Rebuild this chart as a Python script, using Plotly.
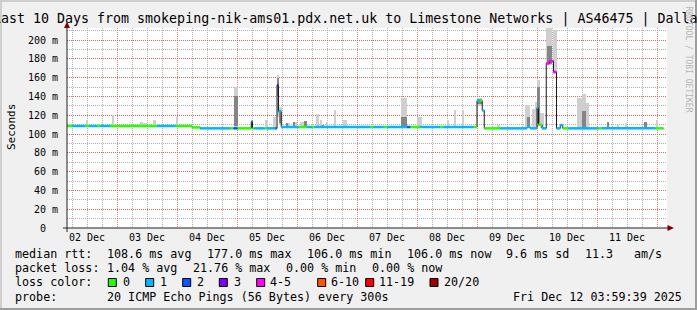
import plotly.graph_objects as go
import pandas as pd

# ---------------- data ----------------
START = pd.Timestamp("2025-12-02 04:00")
END = pd.Timestamp("2025-12-12 04:00")

# median rtt steps: start (hours after START), median (ms), loss bucket index
seg_start_h = [0, 2, 7.3, 8.7, 12, 13.3, 17.3, 36, 43.3, 50, 53.3, 65.3, 66.6, 68.2,
               73.7, 74.2, 75, 79, 80, 83.3, 84, 84.6, 85.7, 92.6, 96, 98, 99,
               121.3, 122.6, 126.6, 128, 136, 137.3, 141.3, 149.3, 150.6, 162.6,
               164, 164.9, 166.1, 166.9, 173.3, 184, 185.3, 188, 188.6, 190,
               191.7, 192.9, 194.6, 195.8, 197.3, 198.3, 200.6, 212.6, 214, 235.3]
seg_median_ms = [108.5, 108.5, 108.5, 108.5, 108.5, 108.5, 108.5, 108.5, 108.5, 107, 106, 106, 106, 106,
                 113, 106, 106, 106, 106, 106, 152, 124, 107.4, 107.4, 107.4, 107.4, 107.4,
                 107.4, 107.4, 107.4, 107.4, 107.4, 107.4, 107.4, 107.4, 107.4, 107.4,
                 135.5, 135.5, 125, 106, 106, 107.5, 106, 128, 110, 106,
                 175, 177.6, 166, 106, 109.5, 106, 106, 106, 106, 106]
seg_loss = [0, 1, 0, 1, 0, 1, 0, 1, 0, 0, 1, 0, 2, 0,
            2, 0, 1, 0, 1, 2, 3, 1, 1, 0, 1, 0, 1,
            0, 1, 0, 1, 2, 0, 1, 0, 1, 0,
            1, 0, 1, 0, 1, 1, 1, 1, 0, 1,
            4, 4, 4, 1, 1, 0, 1, 0, 1, 0]
seg_end_h = 238.6

# smoke (ping spread), light outer part
light_h0 = [7.9, 12.5, 18.1, 29.3, 30.5, 34.3, 43.7, 66.9, 73.9, 79.3, 82.5, 84.0, 84.6, 87.7,
            90.5, 93.3, 99.9, 101.3, 103.7, 106.7, 110.5, 133.7, 140.0, 152.0, 154.9, 158.3,
            164.0, 172.0, 183.3, 186.0, 187.3, 188.0, 189.3, 191.5, 194.5, 204.0, 206.0,
            207.5, 220.0, 223.3, 235.7]
light_h1 = [8.5, 12.9, 18.7, 30.5, 32.1, 35.7, 44.3, 68.3, 74.5, 80.5, 83.7, 84.6, 85.9, 89.3,
            91.9, 95.3, 100.6, 102.1, 104.5, 107.5, 112.1, 136.1, 142.0, 152.5, 155.7, 158.9,
            166.1, 173.3, 185.3, 187.3, 188.0, 189.0, 190.6, 194.1, 196.1, 206.0, 207.5,
            208.6, 220.5, 223.9, 236.3]
light_lo = [108, 108, 108, 108, 108, 108, 108, 106, 106, 106, 106, 118, 110, 107,
            107, 107, 107, 107, 107, 107, 107, 107, 107, 107, 107, 107,
            130, 106, 106, 106, 106, 108, 106, 173, 164, 106, 106,
            106, 106, 106, 106]
light_hi = [115, 111, 120, 113, 112, 115, 118.5, 150, 114, 115, 118, 163, 129, 112,
            113, 113, 121, 115, 113, 126, 115, 138, 118.5, 115, 126, 126,
            138, 110, 131, 127, 134, 157, 122, 215, 211, 138, 143,
            133, 110, 112, 115]

# smoke, dense inner part
dark_h0 = [66.9, 73.9, 84.0, 84.6, 87.9, 90.5, 94.9, 102.0, 133.7, 164.0, 184.0, 188.0,
           192.0, 206.0, 216.0, 230.6]
dark_h1 = [68.3, 74.5, 84.6, 85.7, 88.5, 91.3, 96.0, 102.6, 136.1, 166.1, 185.3, 189.0,
           194.1, 207.5, 216.6, 232.0]
dark_lo = [108, 106, 140, 112, 107, 107, 107, 106, 108, 132, 106, 112, 175, 106, 106, 106]
dark_hi = [140, 113, 160, 126, 112, 113, 114, 110, 118, 137, 118, 150, 194, 124, 113, 113]

y_tickvals = [0, 20, 40, 60, 80, 100, 120, 140, 160, 180, 200]
y_ticktext = ["0\u00a0\u00a0", "20 m", "40 m", "60 m", "80 m", "100 m", "120 m",
              "140 m", "160 m", "180 m", "200 m"]

loss_labels = ["0", "1", "2", "3", "4-5", "6-10", "11-19", "20/20"]
loss_colors = ["#26ff00", "#00b8ff", "#0059ff", "#7e00ff", "#ff00ff", "#ff5500", "#ff0000", "#a10000"]

title_text = "Last 10 Days from smokeping-nik-ams01.pdx.net.uk to Limestone Networks | AS46475 | Dallas"
rtt_texts = ["median rtt:", "108.6 ms avg", "177.0 ms max", "106.0 ms min", "106.0 ms now",
             "9.6 ms sd", "11.3", "am/s"]
loss_texts = ["packet loss:", "1.04 % avg", "21.76 % max", "0.00 % min", "0.00 % now"]
probe_texts = ["probe:", "20 ICMP Echo Pings (56 Bytes) every 300s", "Fri Dec 12 03:59:39 2025"]

# ---------------- layout helpers ----------------
W, H = 697, 310
L, R, T, B = 67, 30, 28, 82
PW, PH = W - L - R, H - T - B


def px_x(px):
    return (px - L) / PW


def px_y(py):
    return (H - B - py) / PH


def t(h):
    return START + pd.Timedelta(hours=h)


MONO = "DejaVu Sans Mono"
fig = go.Figure()

# smoke bars
for h0s, h1s, los, his, col in [(light_h0, light_h1, light_lo, light_hi, "#cfcfcf"),
                                 (dark_h0, dark_h1, dark_lo, dark_hi, "#858585")]:
    fig.add_trace(go.Bar(
        x=[t((a + b) / 2) for a, b in zip(h0s, h1s)],
        y=[hi - lo for lo, hi in zip(los, his)],
        base=los,
        width=[(b - a) * 3600000 for a, b in zip(h0s, h1s)],
        marker=dict(color=col, line=dict(width=0)),
        hoverinfo="skip",
    ))

# black median connector
fig.add_trace(go.Scatter(
    x=[t(h) for h in seg_start_h] + [t(seg_end_h)],
    y=seg_median_ms + [seg_median_ms[-1]],
    mode="lines", line=dict(color="#1a1a1a", width=1, shape="hv"),
    hoverinfo="skip",
))

# coloured median by loss
ends = seg_start_h[1:] + [seg_end_h]
for k, col in enumerate(loss_colors):
    xs, ys = [], []
    for h0, h1, v, lk in zip(seg_start_h, ends, seg_median_ms, seg_loss):
        if lk == k:
            xs += [t(h0), t(h1), None]
            ys += [v, v, None]
    if xs:
        fig.add_trace(go.Scatter(x=xs, y=ys, mode="lines",
                                 line=dict(color=col, width=2.5),
                                 hoverinfo="skip"))

grid_minor = "rgba(143,143,143,0.7)"
grid_major = "rgba(222,80,80,0.75)"

fig.update_layout(
    width=W, height=H,
    margin=dict(l=L, r=R, t=T, b=B, pad=0),
    paper_bgcolor="#f0f0f0", plot_bgcolor="#ffffff",
    showlegend=False, barmode="overlay", bargap=0,
    font=dict(family=MONO, color="#000000"),
    xaxis=dict(
        type="date", range=[START, END],
        tick0="2025-12-02", dtick=86400000, tickformat="%d %b",
        ticklabelmode="period", ticks="", ticklabelstandoff=2,
        tickfont=dict(family=MONO, size=10),
        showgrid=True, gridcolor=grid_major, gridwidth=1, griddash="1px,1px",
        minor=dict(tick0="2025-12-02", dtick=6 * 3600000, showgrid=True,
                   gridcolor=grid_minor, gridwidth=1, griddash="1px,1px", ticks=""),
        showline=False, zeroline=False, fixedrange=True,
    ),
    yaxis=dict(
        range=[0, 200 / 0.94],
        tickvals=y_tickvals, ticktext=y_ticktext,
        ticks="", ticklabelstandoff=8,
        tickfont=dict(family=MONO, size=10),
        showgrid=True, gridcolor=grid_major, gridwidth=1, griddash="1px,1px",
        minor=dict(tick0=0, dtick=10, showgrid=True,
                   gridcolor=grid_minor, gridwidth=1, griddash="1px,1px", ticks=""),
        showline=False, zeroline=False, fixedrange=True,
    ),
)

shapes = []
# frame shading
shapes.append(dict(type="rect", xref="paper", yref="paper", x0=px_x(0), x1=px_x(W),
                   y0=px_y(0), y1=px_y(2), fillcolor="#cfcfcf", line=dict(width=0), layer="below"))
shapes.append(dict(type="rect", xref="paper", yref="paper", x0=px_x(0), x1=px_x(2),
                   y0=px_y(0), y1=px_y(H), fillcolor="#cfcfcf", line=dict(width=0), layer="below"))
shapes.append(dict(type="rect", xref="paper", yref="paper", x0=px_x(0), x1=px_x(W),
                   y0=px_y(H - 2), y1=px_y(H), fillcolor="#9e9e9e", line=dict(width=0), layer="below"))
shapes.append(dict(type="rect", xref="paper", yref="paper", x0=px_x(W - 2), x1=px_x(W),
                   y0=px_y(0), y1=px_y(H), fillcolor="#9e9e9e", line=dict(width=0), layer="below"))
# axes
shapes.append(dict(type="line", xref="paper", yref="paper", x0=0, x1=0,
                   y0=px_y(232), y1=px_y(25), line=dict(color="#202020", width=1)))
shapes.append(dict(type="line", xref="paper", yref="paper", x0=px_x(63), x1=px_x(670),
                   y0=0, y1=0, line=dict(color="#202020", width=1)))
# arrows
shapes.append(dict(type="path", xref="paper", yref="paper",
                   path=f"M {px_x(64)},{px_y(28)} L {px_x(70)},{px_y(28)} L {px_x(67)},{px_y(21.5)} Z",
                   fillcolor="#7f0000", line=dict(width=0)))
shapes.append(dict(type="path", xref="paper", yref="paper",
                   path=f"M {px_x(667.5)},{px_y(225)} L {px_x(667.5)},{px_y(231)} L {px_x(674)},{px_y(228)} Z",
                   fillcolor="#7f0000", line=dict(width=0)))

annotations = []


def text_at(txt, px, py, size=11.7, color="#000000", anchor="left", angle=0):
    annotations.append(dict(
        text=txt, xref="paper", yref="paper", x=px_x(px), y=px_y(py),
        xanchor=anchor, yanchor="middle", showarrow=False, textangle=angle,
        borderpad=0, borderwidth=0,
        font=dict(family=MONO, size=size, color=color),
    ))


# title
text_at(title_text, -7, 19, size=13.3)
# y axis title
text_at("Seconds", 11, 127, size=11, anchor="center", angle=-90)
# watermark
text_at("RRDTOOL / TOBI OETIKER", 688.5, 59, size=8, color="#b4b4b4", anchor="center", angle=90)

# legend lines
for txt, px in zip(rtt_texts, [16, 107.3, 207.3, 308, 407.7, 506.7, 585.5, 635]):
    text_at(txt, px - 0.8, 254)
for txt, px in zip(loss_texts, [16, 107.3, 193.3, 286.7, 372.7]):
    text_at(txt, px - 0.8, 268)
text_at("loss color:", 16 - 0.8, 282)
box_px = [108.3, 145.7, 182.7, 219.3, 256.7, 317.7, 365.7, 430]
lab_px = [123.3, 160.7, 197.3, 235, 271, 331.7, 380, 445]
for lab, col, bx, lx in zip(loss_labels, loss_colors, box_px, lab_px):
    shapes.append(dict(type="rect", xref="paper", yref="paper",
                       x0=px_x(bx), x1=px_x(bx + 8), y0=px_y(278.5), y1=px_y(286.5),
                       fillcolor=col, line=dict(color="#000000", width=1)))
    text_at(lab, lx - 0.8, 282)
for txt, px in zip(probe_texts, [16, 107.3, 513.3]):
    text_at(txt, px - 0.8, 296.5)

fig.update_layout(shapes=shapes, annotations=annotations)
fig.write_html("out.html")
